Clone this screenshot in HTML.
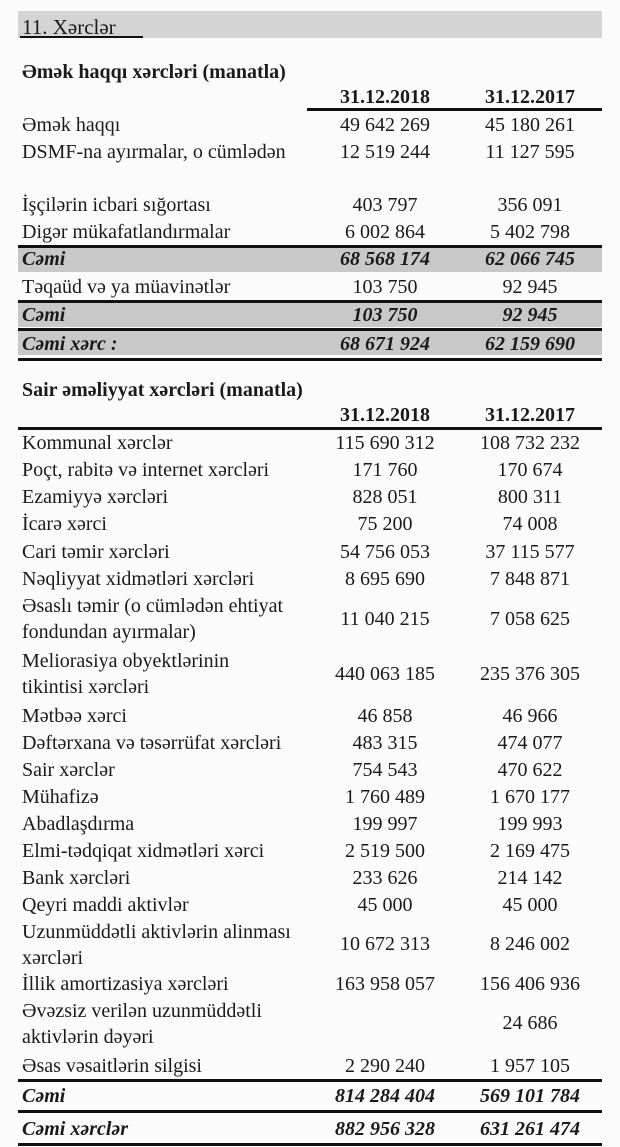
<!DOCTYPE html>
<html><head><meta charset="utf-8"><style>
body{margin:0;width:620px;height:1147px;background:#fbfbfb;position:relative;overflow:hidden;font-family:"Liberation Serif",serif;font-size:20px;color:#1a1a1a}
div{position:absolute;white-space:nowrap;line-height:22px}
.l{left:22px}
.a{left:305px;width:160px;text-align:center}
.b{left:455px;width:150px;text-align:center}
.bi{font-weight:bold;font-style:italic}
.bd{font-weight:bold}
.ln{height:3px;background:#111;left:18px;width:584px}
.band{background:#c8c8c8;left:18px;width:584px;height:24px}
</style></head><body>
<div style="left:18px;top:11px;width:584px;height:27px;background:#d4d4d4"></div>
<div class="l" style="top:16px;font-size:21px">11. Xərclər</div>
<div style="left:20px;top:36px;width:123px;height:2px;background:#111"></div>

<div class="l bd" style="top:61px">Əmək haqqı xərcləri (manatla)</div>
<div class="a bd" style="top:86px">31.12.2018</div><div class="b bd" style="top:86px">31.12.2017</div>
<div class="ln" style="top:108px;left:307px;width:295px"></div>
<div class="l" style="top:114px">Əmək haqqı</div><div class="a" style="top:114px">49 642 269</div><div class="b" style="top:114px">45 180 261</div>
<div class="l" style="top:141px">DSMF-na ayırmalar, o cümlədən</div><div class="a" style="top:141px">12 519 244</div><div class="b" style="top:141px">11 127 595</div>
<div class="l" style="top:194px">İşçilərin icbari sığortası</div><div class="a" style="top:194px">403 797</div><div class="b" style="top:194px">356 091</div>
<div class="l" style="top:221px">Digər mükafatlandırmalar</div><div class="a" style="top:221px">6 002 864</div><div class="b" style="top:221px">5 402 798</div>
<div class="ln" style="top:245px"></div><div class="band" style="top:248px"></div>
<div class="l bi" style="top:248px">Cəmi</div><div class="a bi" style="top:248px">68 568 174</div><div class="b bi" style="top:248px">62 066 745</div>
<div class="l" style="top:276px">Təqaüd və ya müavinətlər</div><div class="a" style="top:276px">103 750</div><div class="b" style="top:276px">92 945</div>
<div class="ln" style="top:300px"></div><div class="band" style="top:303px"></div>
<div class="l bi" style="top:304px">Cəmi</div><div class="a bi" style="top:304px">103 750</div><div class="b bi" style="top:304px">92 945</div>
<div class="ln" style="top:328px"></div><div class="band" style="top:331px"></div>
<div class="l bi" style="top:333px">Cəmi xərc :</div><div class="a bi" style="top:333px">68 671 924</div><div class="b bi" style="top:333px">62 159 690</div>
<div class="ln" style="top:358px"></div>

<div class="l bd" style="top:379px">Sair əməliyyat xərcləri (manatla)</div>
<div class="a bd" style="top:404px">31.12.2018</div><div class="b bd" style="top:404px">31.12.2017</div>
<div class="ln" style="top:427px"></div>
<div class="l" style="top:432px">Kommunal xərclər</div><div class="a" style="top:432px">115 690 312</div><div class="b" style="top:432px">108 732 232</div>
<div class="l" style="top:459px">Poçt, rabitə və internet xərcləri</div><div class="a" style="top:459px">171 760</div><div class="b" style="top:459px">170 674</div>
<div class="l" style="top:486px">Ezamiyyə xərcləri</div><div class="a" style="top:486px">828 051</div><div class="b" style="top:486px">800 311</div>
<div class="l" style="top:513px">İcarə xərci</div><div class="a" style="top:513px">75 200</div><div class="b" style="top:513px">74 008</div>
<div class="l" style="top:541px">Cari təmir xərcləri</div><div class="a" style="top:541px">54 756 053</div><div class="b" style="top:541px">37 115 577</div>
<div class="l" style="top:568px">Nəqliyyat xidmətləri xərcləri</div><div class="a" style="top:568px">8 695 690</div><div class="b" style="top:568px">7 848 871</div>
<div class="l" style="top:595px">Əsaslı təmir (o cümlədən ehtiyat</div>
<div class="l" style="top:621px">fondundan ayırmalar)</div><div class="a" style="top:608px">11 040 215</div><div class="b" style="top:608px">7 058 625</div>
<div class="l" style="top:650px">Meliorasiya obyektlərinin</div>
<div class="l" style="top:676px">tikintisi xərcləri</div><div class="a" style="top:663px">440 063 185</div><div class="b" style="top:663px">235 376 305</div>
<div class="l" style="top:705px">Mətbəə xərci</div><div class="a" style="top:705px">46 858</div><div class="b" style="top:705px">46 966</div>
<div class="l" style="top:732px">Dəftərxana və təsərrüfat xərcləri</div><div class="a" style="top:732px">483 315</div><div class="b" style="top:732px">474 077</div>
<div class="l" style="top:759px">Sair xərclər</div><div class="a" style="top:759px">754 543</div><div class="b" style="top:759px">470 622</div>
<div class="l" style="top:786px">Mühafizə</div><div class="a" style="top:786px">1 760 489</div><div class="b" style="top:786px">1 670 177</div>
<div class="l" style="top:813px">Abadlaşdırma</div><div class="a" style="top:813px">199 997</div><div class="b" style="top:813px">199 993</div>
<div class="l" style="top:840px">Elmi-tədqiqat xidmətləri  xərci</div><div class="a" style="top:840px">2 519 500</div><div class="b" style="top:840px">2 169 475</div>
<div class="l" style="top:867px">Bank xərcləri</div><div class="a" style="top:867px">233 626</div><div class="b" style="top:867px">214 142</div>
<div class="l" style="top:894px">Qeyri maddi aktivlər</div><div class="a" style="top:894px">45 000</div><div class="b" style="top:894px">45 000</div>
<div class="l" style="top:921px">Uzunmüddətli aktivlərin alinması</div>
<div class="l" style="top:947px">xərcləri</div><div class="a" style="top:933px">10 672 313</div><div class="b" style="top:933px">8 246 002</div>
<div class="l" style="top:973px">İllik amortizasiya xərcləri</div><div class="a" style="top:973px">163 958 057</div><div class="b" style="top:973px">156 406 936</div>
<div class="l" style="top:1000px">Əvəzsiz verilən uzunmüddətli</div>
<div class="l" style="top:1026px">aktivlərin dəyəri</div><div class="b" style="top:1012px">24 686</div>
<div class="l" style="top:1055px">Əsas vəsaitlərin silgisi</div><div class="a" style="top:1055px">2 290 240</div><div class="b" style="top:1055px">1 957 105</div>
<div class="ln" style="top:1079px"></div>
<div class="l bi" style="top:1085px">Cəmi</div><div class="a bi" style="top:1085px">814 284 404</div><div class="b bi" style="top:1085px">569 101 784</div>
<div class="ln" style="top:1110px"></div>
<div class="l bi" style="top:1118px">Cəmi xərclər</div><div class="a bi" style="top:1118px">882 956 328</div><div class="b bi" style="top:1118px">631 261 474</div>
<div class="ln" style="top:1143px"></div>
</body></html>
